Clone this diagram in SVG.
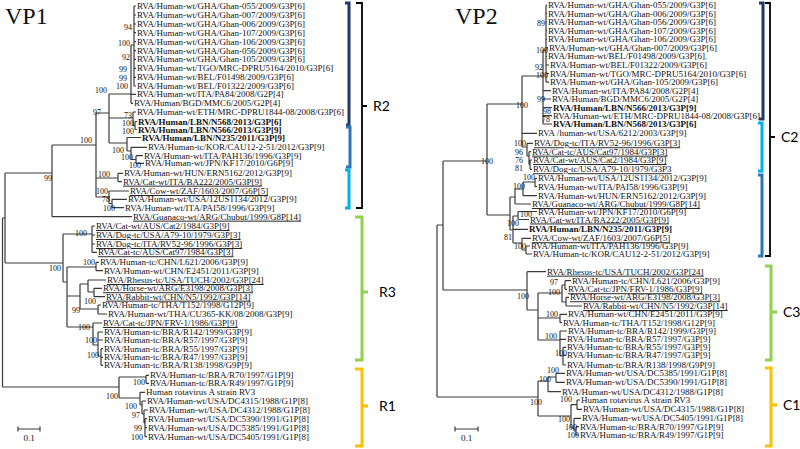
<svg xmlns="http://www.w3.org/2000/svg" width="800" height="449" viewBox="0 0 800 449">
<style>
text{font-family:"Liberation Serif","Times New Roman",serif;fill:#111}
.l{font-size:9px}
.b{font-weight:bold}
.u{text-decoration:underline}
.bs{font-size:8px;text-anchor:end}
.t{fill:none;stroke:#3a3a3a;stroke-width:1.2}
.title{font-size:24px}
.cl{font-family:Lato,"Liberation Sans",sans-serif;font-size:14px;fill:#000}
.br{fill:none;stroke-width:3;stroke-linecap:butt}
.bk{fill:none;stroke:#000;stroke-width:1.8}
</style>
<rect width="800" height="449" fill="#fff"/>
<text class="title" x="5" y="24">VP1</text>
<text class="title" x="455" y="24">VP2</text>

<g id="connectors">
<path class="t" d="M2.5,218V387M2.5,218H5M5,173V263M5,173H52M5,263H63M2.5,387H119
M52,145V216.7M52,145H96M52,216.7H132M96,113V197M96,113H109M109,94V143M109,94H131
M134,6V86M134,6H136M134,15H136M134,24H136M134,32.7H136M134,41.7H136M134,50.7H136M134,59.3H136M134,68.3H136M134,77.3H136M134,86H136
M131,45V103.3M131,45H134M131,94.3H136M131,103.3H133
M109,118H133M133,112V125.7M133,112H136M133,125.7H135M135,121.5V129.5M135,121.5H137M135,129.5H137
M109,143H127M127,137.5V151M127,137.5H141M127,151H131M131,147.3V159.5M131,147.3H147M131,159.5H136M136,155.7V163.3M136,155.7H143M136,163.3H144
M96,178H118M118,173.3V181.7M118,173.3H123M118,181.7H122
M96,197H109M109,191V203.5M109,191H129M109,203.5H112M112,199.3V207.7M112,199.3H127M112,207.7H124
M63,234V282M63,234H92M92,226V252.3M92,226H95M92,235H95M92,244H95M92,252.3H97
M63,282H67M67,267V327M67,267H96M96,262.3V270.7M96,262.3H99M96,270.7H103
M67,296H80M80,284V309M80,284H88M88,280V292M88,280H106M88,292H94M94,288.3V296.7M94,288.3H102M94,296.7H105
M80,309H98M98,305V314M98,305H101M98,314H107
M67,327H93M93,323V345M93,323H102M93,345H98M98,332V356M98,332H103M98,340H103M98,356H101M101,348.7V365.3M101,348.7H103M101,357.3H103M101,365.3H103
M119,377V398M119,377H146M146,375.3V383.3M146,375.3H149M146,383.3H149
M119,398H140M140,392.3V405M140,392.3H145M140,405H142M142,401V414M142,401H146M142,414H144M144,410V423M144,410H148M144,423H145M145,418.7V436.7M145,418.7H147M145,427.7H147M145,436.7H147"/>
<path class="t" d="M437,225V397M437,225H443M443,161V290M443,161H487M443,290H527M437,397H538
M487,104V215M487,104H522M522,76V147M522,76H543M543,50V124M543,50H546
M546,5V82.1M546,5H547M546,13.6H547M546,22.1H547M546,30.7H547M546,39.3H547M546,47.8H548M546,56.4H547M546,65H549M546,73.5H549M546,82.1H549
M543,90.7H551M543,99H551M543,107.5H552M543,115.7H552M543,124H552
M522,133.3H537M522,147H527M527,143.3V156M527,143.3H533M527,156H529M529,151.7V164.5M529,151.7H531M529,164.5H530M530,160V169.3M530,160H532M530,169.3H532
M487,215H510M510,197V230M510,197H515M515,189V204M515,189H523M523,182V195.7M523,182H535M535,178.3V186.7M535,178.3H537M535,186.7H537M523,195.7H537M515,204H531
M510,230H513M513,216V243M513,216H518M518,211.5V219.5M518,211.5H537M518,219.5H529M513,229.3H528
M513,243H522M522,238.3V250M522,238.3H531M522,250H526M526,246V254M526,246H530M526,254H532
M527,271.7V310M527,271.7H546M527,310H538M538,293V340
M538,293H562M562,285V302M562,285H565M565,280.7V289.3M565,280.7H571M565,289.3H567M562,302H566M566,297.3V306M566,297.3H569M566,306H582
M538,318H560M560,314.3V322.7M560,314.3H567M560,322.7H562
M538,340H560M560,331V356M560,331H567M560,339.3H566M560,356H563M563,347.3V365M563,347.3H566M563,355.3H566M563,365H566
M538,381V416M538,381H548M548,377V391.7M548,391.7H561M548,377H556M556,373.3V382.3M556,373.3H565M556,382.3H565
M538,416H571M571,404.6V428M571,404.6H577M577,400V409.3M577,400H580M577,409.3H582M571,428H574M574,418.3V431M574,418.3H581M574,431H576M576,426.7V435M576,426.7H579M576,435H579"/>
</g>

<g id="scale-bars">
<path class="t" d="M18,429H40M18,426.5V431.5M40,426.5V431.5M455,429H478M455,426.5V431.5M478,426.5V431.5"/>
<text class="l" x="29" y="441" text-anchor="middle">0.1</text>
<text class="l" x="466.5" y="441" text-anchor="middle">0.1</text>
</g>

<g id="bootstrap-vp1">
<text class="bs" x="132" y="30">94</text>
<text class="bs" x="130" y="46">100</text>
<text class="bs" x="130" y="60">92</text>
<text class="bs" x="127" y="72">99</text>
<text class="bs" x="127" y="80.5">99</text>
<text class="bs" x="128" y="89">100</text>
<text class="bs" x="107" y="93">100</text>
<text class="bs" x="101" y="115">97</text>
<text class="bs" x="132" y="118">73</text>
<text class="bs" x="134" y="126">100</text>
<text class="bs" x="134" y="134">100</text>
<text class="bs" x="92" y="143">100</text>
<text class="bs" x="124" y="152.5">100</text>
<text class="bs" x="133" y="160">100</text>
<text class="bs" x="141" y="167.5">100</text>
<text class="bs" x="110" y="177">100</text>
<text class="bs" x="52" y="181">99</text>
<text class="bs" x="108" y="194">100</text>
<text class="bs" x="110" y="202">78</text>
<text class="bs" x="115" y="211">100</text>
<text class="bs" x="87" y="236">100</text>
<text class="bs" x="95" y="265">100</text>
<text class="bs" x="61" y="271">100</text>
<text class="bs" x="96" y="304">100</text>
<text class="bs" x="80" y="313">99</text>
<text class="bs" x="90" y="330">100</text>
<text class="bs" x="97" y="343">100</text>
<text class="bs" x="99" y="358">100</text>
<text class="bs" x="145" y="385">100</text>
<text class="bs" x="118" y="399">100</text>
<text class="bs" x="137" y="409">100</text>
<text class="bs" x="140" y="418">97</text>
<text class="bs" x="142" y="431">99</text>
<text class="bs" x="143" y="440">100</text>
</g>

<g id="bootstrap-vp2">
<text class="bs" x="545" y="26">89</text>
<text class="bs" x="548" y="53">100</text>
<text class="bs" x="543" y="69.5">92</text>
<text class="bs" x="548" y="78">100</text>
<text class="bs" x="545" y="102">99</text>
<text class="bs" x="528" y="108">100</text>
<text class="bs" x="551" y="113.5">98</text>
<text class="bs" x="550" y="122">78</text>
<text class="bs" x="526" y="146">100</text>
<text class="bs" x="523" y="154.5">96</text>
<text class="bs" x="523" y="162.5">76</text>
<text class="bs" x="523" y="170.5">81</text>
<text class="bs" x="493" y="164">100</text>
<text class="bs" x="535" y="180">100</text>
<text class="bs" x="525" y="189">100</text>
<text class="bs" x="532" y="217">100</text>
<text class="bs" x="519" y="225.5">100</text>
<text class="bs" x="512" y="240">81</text>
<text class="bs" x="526" y="249">100</text>
<text class="bs" x="558" y="285">97</text>
<text class="bs" x="560" y="295">100</text>
<text class="bs" x="529" y="299">100</text>
<text class="bs" x="558" y="317">100</text>
<text class="bs" x="557" y="339">100</text>
<text class="bs" x="567" y="356">100</text>
<text class="bs" x="559" y="373">100</text>
<text class="bs" x="551" y="382">100</text>
<text class="bs" x="572" y="401.5">100</text>
<text class="bs" x="542" y="405">100</text>
<text class="bs" x="570" y="422">100</text>
<text class="bs" x="577" y="430">100</text>
<text class="bs" x="579" y="438">100</text>
</g>

<g id="vp1-leaves">
<g id="a01"><text class="l" x="137" y="9">RVA/Human-wt/GHA/Ghan-055/2009/G3P[6]</text></g>
<g id="a02"><text class="l" x="137" y="18">RVA/Human-wt/GHA/Ghan-007/2009/G3P[6]</text></g>
<g id="a03"><text class="l" x="137" y="27">RVA/Human-wt/GHA/Ghan-006/2009/G3P[6]</text></g>
<g id="a04"><text class="l" x="137" y="35.7">RVA/Human-wt/GHA/Ghan-107/2009/G3P[6]</text></g>
<g id="a05"><text class="l" x="137" y="44.7">RVA/Human-wt/GHA/Ghan-106/2009/G3P[6]</text></g>
<g id="a06"><text class="l" x="137" y="53.7">RVA/Human-wt/GHA/Ghan-056/2009/G3P[6]</text></g>
<g id="a07"><text class="l" x="137" y="62.3">RVA/Human-wt/GHA/Ghan-105/2009/G3P[6]</text></g>
<g id="a08"><text class="l" x="137" y="71.3">RVA/Human-wt/TGO/MRC-DPRU5164/2010/G3P[6]</text></g>
<g id="a09"><text class="l" x="137" y="80.3">RVA/Human-wt/BEL/F01498/2009/G3P[6]</text></g>
<g id="a10"><text class="l" x="137" y="89">RVA/Human-wt/BEL/F01322/2009/G3P[6]</text></g>
<g id="a11"><text class="l" x="137" y="97.3">RVA/Human-wt/ITA/PA84/2008/G2P[4]</text></g>
<g id="a12"><text class="l" x="134" y="106.3">RVA/Human/BGD/MMC6/2005/G2P[4]</text></g>
<g id="a13"><text class="l" x="137" y="115">RVA/Human-wt/ETH/MRC-DPRU1844-08/2008/G3P[6]</text></g>
<g id="a14"><text class="l b" x="138" y="124.5">RVA/Human/LBN/N568/2013/G3P[6]</text></g>
<g id="a15"><text class="l b" x="138" y="132.5">RVA/Human/LBN/N566/2013/G3P[9]</text></g>
<g id="a16"><text class="l b" x="142" y="140.5">RVA/Human/LBN/N235/2011/G3P[9]</text></g>
<g id="a17"><text class="l" x="148" y="150.3">RVA/Human-tc/KOR/CAU12-2-51/2012/G3P[9]</text></g>
<g id="a18"><text class="l" x="144" y="158.7">RVA/Human-wt/ITA/PAH136/1996/G3P[9]</text></g>
<g id="a19"><text class="l" x="145" y="166.3">RVA/Human-wt/JPN/KF17/2010/G6P[9]</text></g>
<g id="a20"><text class="l" x="124" y="176.3">RVA/Human-wt/HUN/ERN5162/2012/G3P[9]</text></g>
<g id="a21"><text class="l u" x="123" y="184.7">RVA/Cat-wt/ITA/BA222/2005/G3P[9]</text></g>
<g id="a22"><text class="l u" x="130" y="194">RVA/Cow-wt/ZAF/1603/2007/G6P[5]</text></g>
<g id="a23"><text class="l" x="128" y="202.3">RVA/Human-wt/USA/12US1134/2012/G3P[9]</text></g>
<g id="a24"><text class="l" x="125" y="210.7">RVA/Human-wt/ITA/PAI58/1996/G3P[9]</text></g>
<g id="a25"><text class="l u" x="133" y="219.7">RVA/Guanaco-wt/ARG/Chubut/1999/G8P[14]</text></g>
<g id="a26"><text class="l u" x="96" y="229">RVA/Cat-wt/AUS/Cat2/1984/G3P[9]</text></g>
<g id="a27"><text class="l u" x="96" y="238">RVA/Dog-tc/USA/A79-10/1979/G3P[3]</text></g>
<g id="a28"><text class="l u" x="96" y="247">RVA/Dog-tc/ITA/RV52-96/1996/G3P[3]</text></g>
<g id="a29"><text class="l u" x="98" y="255.3">RVA/Cat-tc/AUS/Cat97/1984/G3P[3]</text></g>
<g id="a30"><text class="l" x="100" y="265.3">RVA/Human-tc/CHN/L621/2006/G3P[9]</text></g>
<g id="a31"><text class="l" x="104" y="273.7">RVA/Human-wt/CHN/E2451/2011/G3P[9]</text></g>
<g id="a32"><text class="l u" x="107" y="283">RVA/Rhesus-tc/USA/TUCH/2002/G3P[24]</text></g>
<g id="a33"><text class="l u" x="103" y="291.3">RVA/Horse-wt/ARG/E3198/2008/G3P[3]</text></g>
<g id="a34"><text class="l u" x="106" y="299.7">RVA/Rabbit-wt/CHN/N5/1992/G3P[14]</text></g>
<g id="a35"><text class="l" x="102" y="308">RVA/Human-tc/THA/T152/1998/G12P[9]</text></g>
<g id="a36"><text class="l" x="108" y="317">RVA/Human-wt/THA/CU365-KK/08/2008/G3P[9]</text></g>
<g id="a37"><text class="l u" x="103" y="326">RVA/Cat-tc/JPN/FRV-1/1986/G3P[9]</text></g>
<g id="a38"><text class="l" x="104" y="335">RVA/Human-tc/BRA/R142/1999/G3P[9]</text></g>
<g id="a39"><text class="l" x="104" y="343">RVA/Human-tc/BRA/R57/1997/G3P[9]</text></g>
<g id="a40"><text class="l" x="104" y="351.7">RVA/Human-tc/BRA/R55/1997/G3P[9]</text></g>
<g id="a41"><text class="l" x="104" y="360.3">RVA/Human-tc/BRA/R47/1997/G3P[9]</text></g>
<g id="a42"><text class="l" x="104" y="368.3">RVA/Human-tc/BRA/R138/1998/G9P[9]</text></g>
<g id="a43"><text class="l" x="150" y="378.3">RVA/Human-tc/BRA/R70/1997/G1P[9]</text></g>
<g id="a44"><text class="l" x="150" y="386.3">RVA/Human-tc/BRA/R49/1997/G1P[9]</text></g>
<g id="a45"><text class="l" x="146" y="395.3">Human rotavirus A strain RV3</text></g>
<g id="a46"><text class="l" x="147" y="404">RVA/Human-wt/USA/DC4315/1988/G1P[8]</text></g>
<g id="a47"><text class="l" x="149" y="413">RVA/Human-wt/USA/DC4312/1988/G1P[8]</text></g>
<g id="a48"><text class="l" x="148" y="421.7">RVA/Human-wt/USA/DC5390/1991/G1P[8]</text></g>
<g id="a49"><text class="l" x="148" y="430.7">RVA/Human-wt/USA/DC5385/1991/G1P[8]</text></g>
<g id="a50"><text class="l" x="148" y="439.7">RVA/Human-wt/USA/DC5405/1991/G1P[8]</text></g>
</g>

<g id="vp2-leaves">
<g id="b01"><text class="l" x="548" y="8">RVA/Human-wt/GHA/Ghan-055/2009/G3P[6]</text></g>
<g id="b02"><text class="l" x="548" y="16.6">RVA/Human-wt/GHA/Ghan-006/2009/G3P[6]</text></g>
<g id="b03"><text class="l" x="548" y="25.1">RVA/Human-wt/GHA/Ghan-056/2009/G3P[6]</text></g>
<g id="b04"><text class="l" x="548" y="33.7">RVA/Human-wt/GHA/Ghan-107/2009/G3P[6]</text></g>
<g id="b05"><text class="l" x="548" y="42.3">RVA/Human-wt/GHA/Ghan-106/2009/G3P[6]</text></g>
<g id="b06"><text class="l" x="549" y="50.8">RVA/Human-wt/GHA/Ghan-007/2009/G3P[6]</text></g>
<g id="b07"><text class="l" x="548" y="59.4">RVA/Human-wt/BEL/F01498/2009/G3P[6].</text></g>
<g id="b08"><text class="l" x="550" y="68">RVA/Human-wt/BEL/F01322/2009/G3P[6]</text></g>
<g id="b09"><text class="l" x="550" y="76.5">RVA/Human-wt/TGO/MRC-DPRU5164/2010/G3P[6]</text></g>
<g id="b10"><text class="l" x="550" y="85.1">RVA/Human-wt/GHA/Ghan-105/2009/G3P[6]</text></g>
<g id="b11"><text class="l" x="552" y="93.7">RVA/Human-wt/ITA/PA84/2008/G2P[4]</text></g>
<g id="b12"><text class="l" x="552" y="102">RVA/Human/BGD/MMC6/2005/G2P[4]</text></g>
<g id="b13"><text class="l b" x="553" y="110.5">RVA/Human/LBN/N566/2013/G3P[9]</text></g>
<g id="b14"><text class="l" x="553" y="118.7">RVA/Human-wt/ETH/MRC-DPRU1844-08/2008/G3P[6]</text></g>
<g id="b15"><text class="l b" x="553" y="127">RVA/Human/LBN/N568/2013/G3P[6]</text></g>
<g id="b16"><text class="l" x="538" y="136.3">RVA /human-wt/USA/6212/2003/G3P[9]</text></g>
<g id="b17"><text class="l u" x="534" y="146.3">RVA/Dog-tc/ITA/RV52-96/1996/G3P[3]</text></g>
<g id="b18"><text class="l u" x="532" y="154.7">RVA/Cat-tc/AUS/Cat97/1984/G3P[3]</text></g>
<g id="b19"><text class="l u" x="533" y="163">RVA/Cat-wt/AUS/Cat2/1984/G3P[9]</text></g>
<g id="b20"><text class="l u" x="533" y="172.3">RVA/Dog-tc/USA/A79-10/1979/G3P3</text></g>
<g id="b21"><text class="l" x="538" y="181.3">RVA/Human-wt/USA/12US1134/2012/G3P[9]</text></g>
<g id="b22"><text class="l" x="538" y="189.7">RVA/Human-wt/ITA/PAI58/1996/G3P[9]</text></g>
<g id="b23"><text class="l" x="538" y="198.7">RVA/Human-wt/HUN/ERN5162/2012/G3P[9]</text></g>
<g id="b24"><text class="l u" x="532" y="207">RVA/Guanaco-wt/ARG/Chubut/1999/G8P[14]</text></g>
<g id="b25"><text class="l" x="538" y="214.5">RVA/Human-wt/JPN/KF17/2010/G6P[9]</text></g>
<g id="b26"><text class="l u" x="530" y="222.5">RVA/Cat-wt/ITA/BA222/2005/G3P[9]</text></g>
<g id="b27"><text class="l b" x="529" y="232.3">RVA/Human/LBN/N235/2011/G3P[9]</text></g>
<g id="b28"><text class="l u" x="532" y="241.3">RVA/Cow-wt/ZAF/1603/2007/G6P[5]</text></g>
<g id="b29"><text class="l" x="531" y="249">RVA/Human-wt/ITA/PAH136/1996/G3P[9]</text></g>
<g id="b30"><text class="l" x="533" y="257">RVA/Human-tc/KOR/CAU12-2-51/2012/G3P[9]</text></g>
<g id="b31"><text class="l u" x="547" y="274.7">RVA/Rhesus-tc/USA/TUCH/2002/G3P[24]</text></g>
<g id="b32"><text class="l" x="572" y="283.7">RVA/Human-tc/CHN/L621/2006/G3P[9]</text></g>
<g id="b33"><text class="l u" x="568" y="292.3">RVA/Cat-tc/JPN/FRV-1/1986/G3P[9]</text></g>
<g id="b34"><text class="l u" x="570" y="300.3">RVA/Horse-wt/ARG/E3198/2008/G3P[3]</text></g>
<g id="b35"><text class="l u" x="583" y="309">RVA/Rabbit-wt/CHN/N5/1992/G3P[14]</text></g>
<g id="b36"><text class="l" x="568" y="317.3">RVA/Human-wt/CHN/E2451/2011/G3P[9]</text></g>
<g id="b37"><text class="l" x="563" y="325.7">RVA/Human-tc/THA/T152/1998/G12P[9]</text></g>
<g id="b38"><text class="l" x="568" y="334">RVA/Human-tc/BRA/R142/1999/G3P[9]</text></g>
<g id="b39"><text class="l" x="567" y="342.3">RVA/Human-tc/BRA/R57/1997/G3P[9]</text></g>
<g id="b40"><text class="l" x="567" y="350.3">RVA/Human-tc/BRA/R55/1997/G3P[9]</text></g>
<g id="b41"><text class="l" x="567" y="358.3">RVA/Human-tc/BRA/R47/1997/G3P[9]</text></g>
<g id="b42"><text class="l" x="567" y="368">RVA/Human-tc/BRA/R138/1998/G9P[9]</text></g>
<g id="b43"><text class="l" x="566" y="376.3">RVA/Human-wt/USA/DC5385/1991/G1P[8]</text></g>
<g id="b44"><text class="l" x="566" y="385.3">RVA/Human-wt/USA/DC5390/1991/G1P[8]</text></g>
<g id="b45"><text class="l" x="562" y="394.7">RVA/Human-wt/USA/DC4312/1988/G1P[8]</text></g>
<g id="b46"><text class="l" x="581" y="403">Human rotavirus A strain RV3</text></g>
<g id="b47"><text class="l" x="583" y="412.3">RVA/Human-wt/USA/DC4315/1988/G1P[8]</text></g>
<g id="b48"><text class="l" x="582" y="421.3">RVA/Human-wt/USA/DC5405/1991/G1P[8]</text></g>
<g id="b49"><text class="l" x="580" y="429.7">RVA/Human-tc/BRA/R70/1997/G1P[9]</text></g>
<g id="b50"><text class="l" x="580" y="438">RVA/Human-tc/BRA/R49/1997/G1P[9]</text></g>
</g>

<g id="brackets-vp1">
<g id="br-r2"><path class="bk" d="M356,3H362V208H356M362,106H367"/><text class="cl" x="373" y="111">R2</text></g>
<path id="br-r2a" class="br" stroke="#1f3864" d="M345,3H349V125H346"/>
<path id="br-r2b" class="br" stroke="#2e75b6" d="M346,127H350V167H346"/>
<path id="br-r2c" class="br" stroke="#00b0f0" d="M345,170H349V208H345"/>
<g id="br-r3"><path class="br" stroke="#92d050" d="M355,217H362V360H355M362,292H368"/><text class="cl" x="379" y="297">R3</text></g>
<g id="br-r1"><path class="br" stroke="#ffc000" d="M355,369H362V446H355M362,406H368"/><text class="cl" x="379" y="411">R1</text></g>
</g>

<g id="brackets-vp2">
<g id="br-c2"><path class="bk" d="M765,3H770V256H765M770,137H775"/><text class="cl" x="781" y="142">C2</text></g>
<path id="br-c2a" class="br" stroke="#1f3864" d="M759,3H763V119H759"/>
<path id="br-c2b" class="br" stroke="#00b0f0" d="M758,123H762V171H758"/>
<path id="br-c2c" class="br" stroke="#2e75b6" d="M758,175H762V256H758"/>
<g id="br-c3"><path class="br" stroke="#92d050" d="M765,266H771V360H765M771,312H777"/><text class="cl" x="783" y="317">C3</text></g>
<g id="br-c1"><path class="br" stroke="#ffc000" d="M765,368H771V446H765M771,405H777"/><text class="cl" x="783" y="410">C1</text></g>
</g>
</svg>
